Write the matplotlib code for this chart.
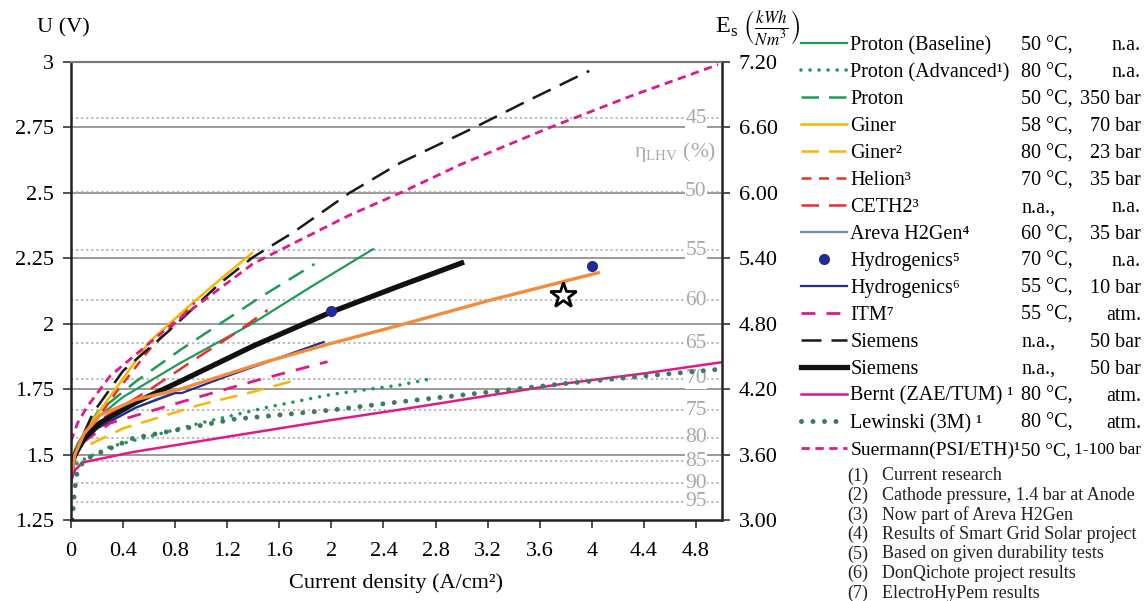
import matplotlib
matplotlib.use("Agg")
import matplotlib.pyplot as plt

plt.rcParams["font.family"] = ["Liberation Serif", "DejaVu Serif"]
plt.rcParams["mathtext.fontset"] = "stix"

# ---- data (current density A/cm2, cell voltage V) ----
proton_base_x = [0, 0.03, 0.15, 0.4, 0.84, 1.39, 1.84, 2.32]
proton_base_u = [1.42, 1.52, 1.62, 1.72, 1.85, 2.0, 2.14, 2.285]
proton_adv_x = [0, 0.05, 0.3, 0.61, 0.99, 1.5, 2.0, 2.53, 2.77]
proton_adv_u = [1.40, 1.47, 1.53, 1.57, 1.62, 1.68, 1.73, 1.766, 1.79]
proton_x = [0, 0.05, 0.2, 0.5, 0.84, 1.45, 1.87]
proton_u = [1.42, 1.54, 1.66, 1.78, 1.90, 2.10, 2.228]
giner_x = [0, 0.05, 0.15, 0.32, 0.6, 0.89, 1.1, 1.39]
giner_u = [1.42, 1.52, 1.62, 1.735, 1.93, 2.06, 2.15, 2.27]
giner2_x = [0.15, 0.4, 0.99, 1.4, 1.73]
giner2_u = [1.54, 1.60, 1.69, 1.74, 1.785]
helion_x = [0, 0.05, 0.15, 0.35, 0.6, 0.95]
helion_u = [1.43, 1.51, 1.60, 1.74, 1.90, 2.08]
ceth2_x = [0.1, 0.25, 0.61, 0.97, 1.25, 1.51]
ceth2_u = [1.57, 1.64, 1.75, 1.87, 1.96, 2.052]
areva_x = [0, 0.05, 0.2, 0.5, 0.8]
areva_u = [1.42, 1.52, 1.60, 1.68, 1.74]
hydrogenics_pts_x = [2.0, 4.0]
hydrogenics_pts_u = [2.05, 2.22]
hydrogenics_x = [0, 0.05, 0.2, 0.5, 0.8, 0.85, 1.2, 1.6, 1.94]
hydrogenics_u = [1.42, 1.53, 1.60, 1.68, 1.735, 1.735, 1.80, 1.87, 1.93]
itm_x = [0.1, 0.3, 0.84, 1.4, 1.97]
itm_u = [1.55, 1.62, 1.70, 1.78, 1.855]
siemens_dash_x = [0.02, 0.08, 0.17, 0.4, 0.76, 1.145, 1.4, 1.71, 2.14, 2.53, 3.1, 3.5, 3.98]
siemens_dash_u = [1.47, 1.56, 1.66, 1.82, 1.976, 2.155, 2.255, 2.35, 2.50, 2.615, 2.75, 2.85, 2.966]
siemens_x = [0, 0.02, 0.1, 0.22, 0.5, 0.84, 1.4, 2.0, 2.5, 3.0]
siemens_u = [1.42, 1.49, 1.56, 1.62, 1.70, 1.78, 1.915, 2.045, 2.14, 2.232]
bernt_x = [0, 0.03, 0.09, 0.48, 1.25, 2.0, 2.53, 3.14, 3.77, 4.4, 5.0]
bernt_u = [1.40, 1.44, 1.47, 1.51, 1.572, 1.632, 1.672, 1.72, 1.77, 1.81, 1.853]
lewinski_x = [0.01, 0.02, 0.04, 0.1, 0.48, 1.25, 2.0, 2.5, 3.14, 3.77, 4.4, 4.98]
lewinski_u = [1.25, 1.32, 1.42, 1.48, 1.563, 1.635, 1.67, 1.70, 1.735, 1.77, 1.80, 1.826]
suermann_x = [0.0, 0.05, 0.12, 0.3, 0.78, 1.4, 2.14, 2.53, 3.0, 3.68, 4.3, 4.97]
suermann_u = [1.55, 1.62, 1.68, 1.80, 2.0, 2.23, 2.415, 2.50, 2.61, 2.75, 2.87, 2.99]
orange_x = [0, 0.03, 0.1, 0.22, 0.5, 0.84, 1.5, 2.0, 2.53, 3.22, 4.05]
orange_u = [1.40, 1.50, 1.58, 1.65, 1.71, 1.75, 1.855, 1.925, 1.995, 2.09, 2.195]
star_x = [3.78]
star_u = [2.11]

eta_levels = [45, 50, 55, 60, 65, 70, 75, 80, 85, 90, 95]
eta_u = [2.785, 2.505, 2.28, 2.09, 1.925, 1.79, 1.67, 1.565, 1.475, 1.39, 1.32]

x_ticks = [0, 0.4, 0.8, 1.2, 1.6, 2, 2.4, 2.8, 3.2, 3.6, 4, 4.4, 4.8]
u_ticks = [1.25, 1.5, 1.75, 2, 2.25, 2.5, 2.75, 3]
es_ticks = [3.0, 3.6, 4.2, 4.8, 5.4, 6.0, 6.6, 7.2]

names = ["Proton (Baseline)", "Proton (Advanced¹)", "Proton", "Giner", "Giner²",
         "Helion³", "CETH2³", "Areva H2Gen⁴", "Hydrogenics⁵", "Hydrogenics⁶",
         "ITM⁷", "Siemens", "Siemens", "Bernt (ZAE/TUM) ¹", "Lewinski (3M) ¹",
         "Suermann(PSI/ETH)¹"]
temps = ["50 °C,", "80 °C,", "50 °C,", "58 °C,", "80 °C,", "70 °C,", "n.a.,", "60 °C,",
         "70 °C,", "55 °C,", "55 °C,", "n.a.,", "n.a.,", "80 °C,", "80 °C,", "50 °C,"]
pressures = ["n.a.", "n.a.", "350 bar", "70 bar", "23 bar", "35 bar", "n.a.", "35 bar",
             "n.a.", "10 bar", "atm.", "50 bar", "50 bar", "atm.", "atm.", "1-100 bar"]
footnotes = ["Current research", "Cathode pressure, 1.4 bar at Anode",
             "Now part of Areva H2Gen", "Results of Smart Grid Solar project",
             "Based on given durability tests", "DonQichote project results",
             "ElectroHyPem results"]

GREEN = "#1f9a5a"
GOLD = "#f5b800"
RED = "#e8302a"
MAG = "#e0198a"
NAVY = "#232c96"
GRAY = "#a8a8a8"
DOT = 0.001  # near zero dash length -> round dots

W, H = 1145, 601
fig = plt.figure(figsize=(W / 100, H / 100), dpi=100)
ax = fig.add_axes([71 / W, 1 - 520 / H, (722 - 71) / W, (520 - 62) / H])

# reference lines
for u in u_ticks[1:-1]:
    ax.axhline(u, color="#9a9a9a", lw=1.4, zorder=1)
for lvl, u in zip(eta_levels, eta_u):
    ax.plot([0, 5], [u, u], color=GRAY, lw=1.1, ls=(0, (1.5, 1.8)), zorder=1)
    ax.text(4.80, u, str(lvl), color=GRAY, fontsize=15.5, ha="center", va="center",
            zorder=2, bbox=dict(facecolor="white", edgecolor="none", pad=0.5))
ax.text(4.64, 2.655, r"η$_{\mathregular{LHV}}$ (%)", color=GRAY, fontsize=15.5,
        ha="center", va="center", zorder=2)

h = {}
h["pb"], = ax.plot(proton_base_x, proton_base_u, color=GREEN, lw=1.6)
h["pa"], = ax.plot(proton_adv_x, proton_adv_u, color=GREEN, lw=2.6,
                   ls=(0, (DOT, 2.5)), dash_capstyle="round")
h["p"], = ax.plot(proton_x, proton_u, color=GREEN, lw=1.8, ls=(0, (7, 4)))
h["g"], = ax.plot(giner_x, giner_u, color=GOLD, lw=1.8)
h["g2"], = ax.plot(giner2_x, giner2_u, color=GOLD, lw=1.8, ls=(0, (7, 4)))
h["he"], = ax.plot(helion_x, helion_u, color=RED, lw=1.8, ls=(0, (4, 3)))
h["ce"], = ax.plot(ceth2_x, ceth2_u, color=RED, lw=1.8, ls=(0, (7, 4)))
h["ar"], = ax.plot(areva_x, areva_u, color="#7088b0", lw=1.6)
h["hy6"], = ax.plot(hydrogenics_x, hydrogenics_u, color=NAVY, lw=1.6)
h["itm"], = ax.plot(itm_x, itm_u, color=MAG, lw=2.0, ls=(0, (5, 4)))
h["sd"], = ax.plot(siemens_dash_x, siemens_dash_u, color="#1a1a1a", lw=1.8, ls=(0, (8, 4)))
h["s"], = ax.plot(siemens_x, siemens_u, color="#111111", lw=3.8)
ax.plot(orange_x, orange_u, color="#f28c38", lw=2.4)
h["be"], = ax.plot(bernt_x, bernt_u, color=MAG, lw=1.8)
h["le"], = ax.plot(lewinski_x, lewinski_u, color="#3f7a60", lw=3.6,
                   ls=(0, (DOT, 2.3)), dash_capstyle="round")
h["su"], = ax.plot(suermann_x, suermann_u, color=MAG, lw=2.0, ls=(0, (3, 2)))
h["hy5"], = ax.plot(hydrogenics_pts_x, hydrogenics_pts_u, ls="none", marker="o",
                    ms=7, color=NAVY, zorder=5)
ax.plot(star_x, star_u, ls="none", marker="*", ms=19, mfc="white", mec="black",
        mew=2.0, zorder=6)

ax.set_xlim(0, 5)
ax.set_ylim(1.25, 3)
ax.set_xticks(x_ticks)
ax.set_xticklabels([f"{v:g}" for v in x_ticks])
ax.set_yticks(u_ticks)
ax.set_yticklabels([f"{v:g}" for v in u_ticks])
ax.tick_params(labelsize=16, length=6, width=1.2, color="#333333", pad=6)
ax.tick_params(axis="x", pad=10)
ax.set_xlabel("Current density (A/cm²)", fontsize=16, labelpad=9)
for s in ["left", "bottom"]:
    ax.spines[s].set_linewidth(1.8)
    ax.spines[s].set_color("#222222")
ax.spines["top"].set_color("#7a7a7a")
ax.spines["top"].set_linewidth(1.6)
ax.spines["right"].set_linewidth(1.8)
ax.spines["right"].set_color("#222222")

ax2 = ax.twinx()
ax2.set_ylim(3.0, 7.2)
ax2.set_yticks(es_ticks)
ax2.set_yticklabels([f"{v:.2f}" for v in es_ticks])
ax2.tick_params(labelsize=16, length=6, width=1.2, color="#333333", pad=6)
for s in ax2.spines.values():
    s.set_visible(False)

fig.text(37 / W, 1 - 28 / H, "U (V)", fontsize=16, ha="left", va="center")
fig.text(715 / W, 1 - 27 / H, r"E$_\mathregular{s}$ $\left(\frac{kWh}{Nm^3}\right)$",
         fontsize=17.5, ha="left", va="center")

handle_keys = ["pb", "pa", "p", "g", "g2", "he", "ce", "ar", "hy5", "hy6",
               "itm", "sd", "s", "be", "le", "su"]
leg = fig.legend([h[k] for k in handle_keys], names, loc="upper left",
                 bbox_to_anchor=(801 / W, 1 - 36 / H), frameon=False, fontsize=14.5,
                 handlelength=2.3, handletextpad=0.15, labelspacing=0.39,
                 borderaxespad=0, borderpad=0, numpoints=1)
leg.get_texts()[-1].set_fontsize(14)

fig.canvas.draw()
renderer = fig.canvas.get_renderer()
inv = fig.transFigure.inverted()
for txt, t, p in zip(leg.get_texts(), temps, pressures):
    bb = txt.get_window_extent(renderer)
    yc = inv.transform((0, (bb.y0 + bb.y1) / 2))[1]
    fs = 14 if len(p) > 7 else 14.5
    fig.text(1021 / W, yc, t, fontsize=fs, ha="left", va="center")
    fig.text(1141 / W, yc, p, fontsize=12.5 if len(p) > 7 else 14.5, ha="right", va="center")

for i, note in enumerate(footnotes):
    y = 1 - (476 + i * 19.5) / H
    fig.text(847 / W, y, f"({i + 1})", fontsize=13, ha="left", va="center", color="#222222")
    fig.text(882 / W, y, note, fontsize=13, ha="left", va="center", color="#222222")

fig.savefig("out.png", dpi=100)
